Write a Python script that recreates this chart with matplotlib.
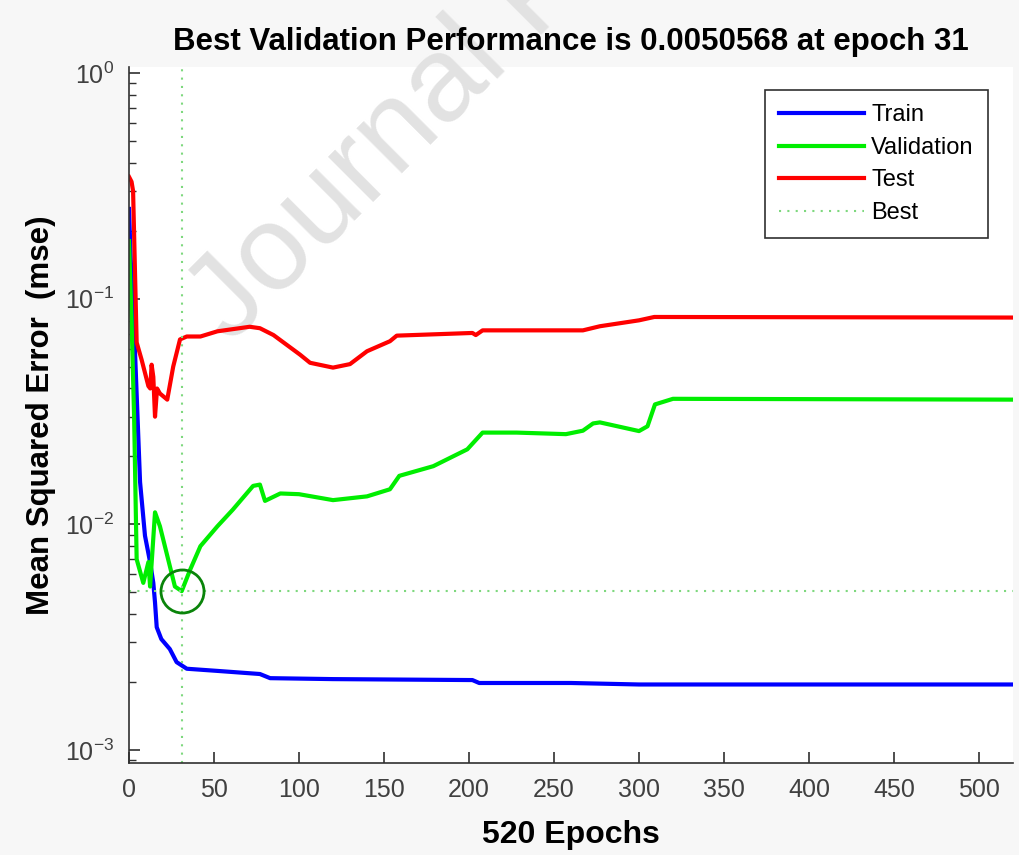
import matplotlib
matplotlib.use("Agg")
import matplotlib.pyplot as plt

plt.rcParams['font.family'] = ['Liberation Sans', 'DejaVu Sans']
plt.rcParams['mathtext.fontset'] = 'custom'
plt.rcParams['mathtext.rm'] = 'Liberation Sans'

# values
train_ep = [0, 1, 3.5, 6.5, 9.4, 12.4, 14.3, 15.3, 16.3, 19, 24, 28, 34, 52, 77, 83,
            120, 202, 206, 260, 300, 520]
train_mse = [0.25, 0.15, 0.059, 0.0154, 0.0089, 0.0068, 0.0055, 0.0045, 0.0035, 0.0031,
             0.0028, 0.00245, 0.00229, 0.00224, 0.00217, 0.00208, 0.00206, 0.00204,
             0.00198, 0.00198, 0.00195, 0.00195]

val_ep = [0, 1.5, 3, 4.5, 8.4, 11.4, 12.4, 15.3, 18.2, 27, 31, 36, 42, 52, 61, 73, 77,
          80, 89, 100, 120, 140, 153.5, 159, 179, 199, 208, 228, 257, 267, 273, 277,
          300, 305, 309.4, 320, 520]
val_mse = [0.18, 0.08, 0.03, 0.007, 0.0055, 0.0068, 0.0053, 0.0113, 0.0098, 0.0053,
           0.0050568, 0.0063, 0.0080, 0.0098, 0.0116, 0.0148, 0.0150, 0.0127, 0.0137,
           0.0136, 0.0128, 0.0133, 0.0143, 0.0164, 0.0181, 0.0215, 0.0255, 0.0255,
           0.0251, 0.0260, 0.0280, 0.0283, 0.0259, 0.0272, 0.0340, 0.0360, 0.0357]

test_ep = [0, 1.5, 2.4, 4.5, 7.4, 11.4, 12.5, 13.3, 14.3, 15.3, 16.5, 18.2, 22.5, 26,
           30, 34, 42, 52, 71, 77, 85, 100.6, 106.5, 120, 130, 140, 153.5, 157.5, 202,
           204, 208, 267, 277, 300, 309, 520]
test_mse = [0.347, 0.33, 0.30, 0.064, 0.0537, 0.041, 0.040, 0.051, 0.045, 0.030, 0.040,
            0.038, 0.0357, 0.050, 0.066, 0.068, 0.068, 0.0717, 0.0751, 0.074, 0.069,
            0.0565, 0.052, 0.0495, 0.0513, 0.0585, 0.0648, 0.0686, 0.0705, 0.0690,
            0.0724, 0.0724, 0.0755, 0.0802, 0.083, 0.0825]

best_epoch = 31
best_perf = 0.0050568
n_epochs = 520

fig = plt.figure(figsize=(10.19, 8.55), dpi=100, facecolor='#f7f7f7')
ax = fig.add_axes([0.1266, 0.1076, 0.8675, 0.8140])

ax.semilogy(train_ep, train_mse, color='#0000ff', lw=3, label='Train')
ax.semilogy(val_ep, val_mse, color='#00ee00', lw=3, label='Validation')
ax.semilogy(test_ep, test_mse, color='#ff0000', lw=3, label='Test')
ax.axvline(best_epoch, color='#7ed87e', lw=1.5, ls=(0, (1, 3)), label='Best')
ax.axhline(best_perf, color='#7ed87e', lw=1.5, ls=(0, (1, 3)))
ax.plot([best_epoch], [best_perf], 'o', mfc='none', mec='#0a840a', ms=31, mew=2)

ax.set_xlim(0, n_epochs)
ax.set_ylim(8.75e-4, 1.064)
ax.set_xticks(range(0, 501, 50))
for s in ['top', 'right']:
    ax.spines[s].set_visible(False)
for s in ['left', 'bottom']:
    ax.spines[s].set_color('#303030')
    ax.spines[s].set_linewidth(1.2)
ax.tick_params(which='both', direction='in', colors='#303030', labelcolor='#404040',
               labelsize=18)
ax.tick_params(which='major', length=8, width=1.2, pad=11)
ax.tick_params(which='minor', length=5, width=1.0)

ax.set_title('Best Validation Performance is 0.0050568 at epoch 31',
             fontsize=22.5, fontweight='bold', pad=12)
ax.set_xlabel('520 Epochs', fontsize=23, fontweight='bold', labelpad=13)
ax.set_ylabel('Mean Squared Error  (mse)', fontsize=22.5, fontweight='bold', labelpad=6)

leg = ax.legend(loc='upper right', bbox_to_anchor=(0.9717, 0.967), borderaxespad=0,
                fontsize=17, handlelength=3.6, handletextpad=0.3, fancybox=False,
                framealpha=1, edgecolor='#303030', labelspacing=0.45, borderpad=0.6)
leg.get_frame().set_linewidth(1.2)

ax.text(0.2257, 0.5965, 'Journal Pre-proof', transform=fig.transFigure, rotation=45,
        rotation_mode='anchor', ha='left', va='baseline', fontsize=87,
        color='#e2e2e2', zorder=0.5, clip_on=False)

fig.savefig('out.png', dpi=100, facecolor=fig.get_facecolor())
